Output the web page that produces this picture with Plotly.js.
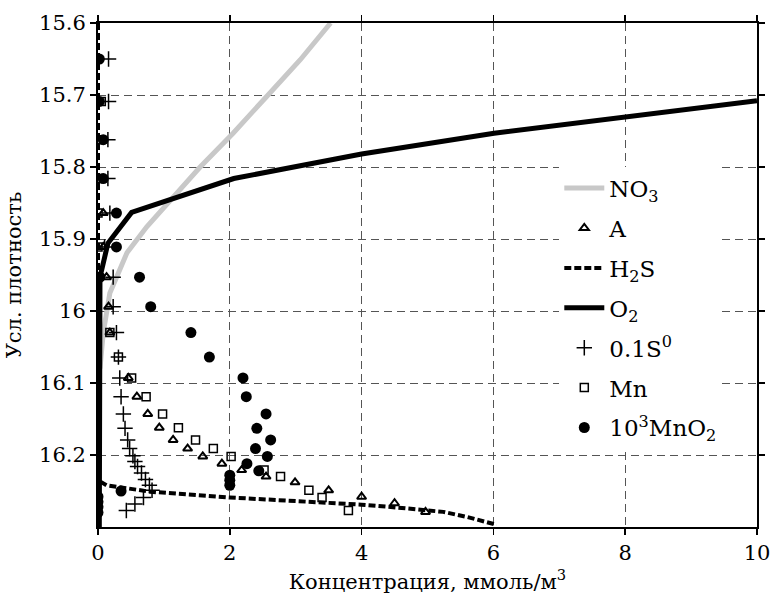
<!DOCTYPE html>
<html>
<head>
<meta charset="utf-8">
<script src="https://cdn.plot.ly/plotly-3.0.1.min.js"></script>
<style>html,body{margin:0;padding:0;background:#fff;}#chart{width:772px;height:599px;}</style>
</head>
<body>
<div id="chart"></div>
<script>
// NO3 (gray line)
const no3X = [3.53, 3.07, 2.56, 2.05, 1.55, 1.09, 0.74, 0.44, 0.18, 0.08, 0.03];
const no3Y = [15.6, 15.651, 15.702, 15.753, 15.80, 15.846, 15.883, 15.919, 15.975, 16.03, 16.08];
// A (triangles)
const aX = [0.08, 0.08, 0.13, 0.16, 0.18, 0.46, 0.59, 0.755, 0.93, 1.14, 1.36, 1.59, 1.88, 2.18, 2.55, 2.99, 3.5, 4.0, 4.5, 4.97];
const aY = [15.864, 15.911, 15.953, 15.994, 16.03, 16.093, 16.119, 16.143, 16.162, 16.179, 16.191, 16.202, 16.212, 16.221, 16.23, 16.238, 16.249, 16.258, 16.267, 16.279];
// H2S (dashed line)
const h2sX = [0, 0, 0.13, 0.79, 2.0, 3.37, 4.0, 4.54, 4.94, 5.24, 5.6, 6.05];
const h2sY = [15.6, 16.235, 16.242, 16.251, 16.259, 16.265, 16.269, 16.273, 16.276, 16.279, 16.286, 16.297];
// O2 (thick black line)
const o2X = [0.02, 0.02, 0.03, 0.15, 0.51, 2.06, 4.0, 6.01, 8.01, 10.0];
const o2Y = [16.3, 15.985, 15.953, 15.906, 15.863, 15.816, 15.782, 15.753, 15.731, 15.708];
// 0.1 S0 (plus)
const sX = [0.16, 0.16, 0.15, 0.15, 0.18, 0.10, 0.23, 0.23, 0.28, 0.31, 0.33, 0.35, 0.385, 0.41, 0.45, 0.48, 0.53, 0.56, 0.60, 0.66, 0.72, 0.78, 0.82, 0.69, 0.56, 0.43];
const sY = [15.65, 15.709, 15.762, 15.816, 15.864, 15.911, 15.953, 15.994, 16.03, 16.064, 16.093, 16.119, 16.143, 16.163, 16.179, 16.191, 16.201, 16.209, 16.216, 16.225, 16.234, 16.242, 16.249, 16.259, 16.268, 16.277];
// Mn (open squares)
const mnX = [0.05, 0.0, 0.0, 0.0, 0.0, 0.18, 0.31, 0.51, 0.73, 0.98, 1.22, 1.48, 1.75, 2.02, 2.52, 2.77, 3.2, 3.4, 3.8];
const mnY = [15.709, 15.762, 15.816, 15.864, 15.911, 16.03, 16.064, 16.093, 16.119, 16.143, 16.162, 16.179, 16.191, 16.202, 16.221, 16.23, 16.249, 16.259, 16.277];
// 10^3 MnO2 (filled circles)
const mno2X = [0.02, 0.02, 0.08, 0.08, 0.28, 0.28, 0.03, 0.63, 0.80, 1.41, 1.69, 2.2, 2.25, 2.55, 2.41, 2.62, 2.39, 2.57, 2.26, 2.44, 2.0, 2.0, 2.0, 0.35, 0, 0, 0, 0];
const mno2Y = [15.65, 15.709, 15.762, 15.816, 15.864, 15.911, 15.953, 15.953, 15.994, 16.03, 16.064, 16.093, 16.119, 16.143, 16.163, 16.179, 16.191, 16.202, 16.212, 16.222, 16.228, 16.235, 16.242, 16.25, 16.258, 16.265, 16.272, 16.28];

const yTicks = [15.6, 15.7, 15.8, 15.9, 16.0, 16.1, 16.2];
const yTickText = ['15.6', '15.7', '15.8', '15.9', '16', '16.1', '16.2'];
const xTicks = [0, 2, 4, 6, 8, 10];

const FONT = 'DejaVu Serif';

const traces = [
  {name: 'NO<sub>3</sub>', legendgroup: 'g1', x: no3X, y: no3Y, mode: 'lines', line: {color: '#c8c8c8', width: 5}},
  {name: 'A', legendgroup: 'g2', x: aX, y: aY, mode: 'markers', marker: {symbol: 'triangle-up-open', size: 8, color: '#000', line: {width: 2, color: '#000'}}},
  {name: 'H<sub>2</sub>S', legendgroup: 'g3', x: h2sX, y: h2sY, mode: 'lines', line: {color: '#000', width: 4, dash: '7px,3px'}},
  {name: 'O<sub>2</sub>', legendgroup: 'g4', x: o2X, y: o2Y, mode: 'lines', line: {color: '#000', width: 5}},
  {name: '0.1S<sup>0</sup>', legendgroup: 'g5', x: sX, y: sY, mode: 'markers', marker: {symbol: 'cross-thin', size: 11, color: '#000', line: {width: 1.5, color: '#000'}}},
  {name: 'Mn', legendgroup: 'g6', x: mnX, y: mnY, mode: 'markers', marker: {symbol: 'square-open', size: 8, color: '#000', line: {width: 1.5, color: '#000'}}},
  {name: '10<sup>3</sup>MnO<sub>2</sub>', legendgroup: 'g7', x: mno2X, y: mno2Y, mode: 'markers', marker: {symbol: 'circle', size: 11, color: '#000'}}
];

const layout = {
  width: 772, height: 599,
  margin: {l: 98, r: 15, t: 23, b: 72},
  paper_bgcolor: '#fff', plot_bgcolor: '#fff',
  font: {family: FONT, size: 21, color: '#000'},
  showlegend: true,
  legend: {x: 0.70, y: 0.715, xanchor: 'left', yanchor: 'top', bgcolor: '#fff', borderwidth: 0,
           tracegroupgap: 7, itemwidth: 40, font: {family: FONT, size: 23}},
  xaxis: {
    range: [0, 10], tickvals: xTicks, ticks: 'outside', ticklen: 6, tickwidth: 1.5, tickcolor: '#000',
    showline: true, linecolor: '#000', linewidth: 2, mirror: 'ticks',
    showgrid: true, gridcolor: '#555', gridwidth: 1, griddash: '8px,5px',
    zeroline: false, tickfont: {family: FONT, size: 21},
    title: {text: 'Концентрация, ммоль/м<sup>3</sup>', font: {family: FONT, size: 21}, standoff: 10}
  },
  yaxis: {
    range: [16.3, 15.6], tickvals: yTicks, ticktext: yTickText, ticks: 'outside', ticklen: 6, tickwidth: 1.5, tickcolor: '#000',
    showline: true, linecolor: '#000', linewidth: 2, mirror: 'ticks',
    showgrid: true, gridcolor: '#555', gridwidth: 1, griddash: '8px,5px',
    zeroline: false, tickfont: {family: FONT, size: 21},
    title: {text: 'Усл. плотность', font: {family: FONT, size: 21}, standoff: 12}
  }
};

Plotly.newPlot('chart', traces, layout, {displayModeBar: false, staticPlot: true});
</script>
</body>
</html>
